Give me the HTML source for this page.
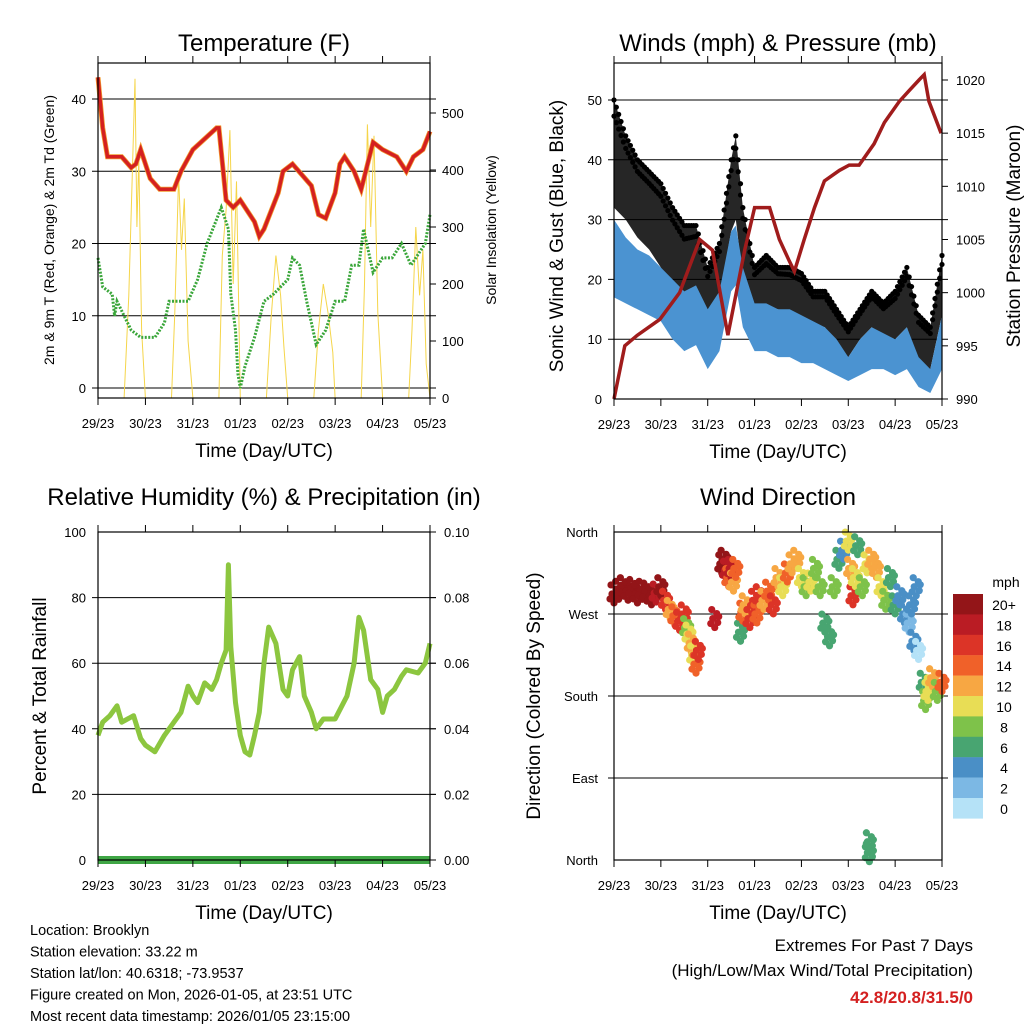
<!DOCTYPE html>
<html><head><meta charset="utf-8"><style>
body{margin:0;background:#fff}
svg{display:block;font-family:"Liberation Sans",sans-serif}
</style></head><body>
<svg id="c" width="1024" height="1024" viewBox="0 0 1024 1024" xmlns="http://www.w3.org/2000/svg"></svg>
<script>
// ---------- DATA ----------
const dayLabels=["29/23","30/23","31/23","01/23","02/23","03/23","04/23","05/23"];
const tempTimes=[0,0.1,0.2,0.5,0.7,0.8,0.9,1.1,1.3,1.6,1.75,2.0,2.5,2.55,2.7,2.85,3.0,3.3,3.4,3.5,3.8,3.9,4.1,4.5,4.65,4.8,5.0,5.1,5.2,5.4,5.55,5.8,6.0,6.3,6.5,6.65,6.85,7.0];
const tempValues=[43,36,32,32,30.5,31,33,29,27.5,27.5,30,33,36,36,26,25,26,23,21,22,27,30,31,28,24,23.5,27,31,32,30,27.5,34,33,32,30,32,33,35.5];
const dewTimes=[0,0.1,0.3,0.35,0.4,0.7,0.9,1.2,1.4,1.5,1.9,2.1,2.3,2.6,2.75,2.8,2.9,2.95,3.0,3.1,3.3,3.5,3.7,4.0,4.1,4.25,4.4,4.6,4.8,5.0,5.2,5.35,5.5,5.6,5.7,5.8,6.0,6.2,6.4,6.6,6.8,6.9,7.0];
const dewValues=[18,14,13,10,12,8,7,7,9,12,12,15,20,25,22,13,8,2,0,3,7,12,13,15,18,17,12,6,8,12,12,17,17,22,19,16,18,18,20,17,19,20,24];
const solarTimes=[0,0.55,0.65,0.72,0.78,0.82,0.86,0.92,1.0,1.55,1.62,1.7,1.76,1.82,1.9,2.0,2.55,2.62,2.7,2.78,2.85,2.92,3.0,3.55,3.65,3.75,3.85,3.92,4.0,4.55,4.65,4.75,4.85,4.95,5.0,5.55,5.62,5.68,5.75,5.82,5.9,6.0,6.55,6.62,6.7,6.78,6.85,6.92,7.0];
const solarValues=[0,0,180,380,560,300,420,120,0,0,150,390,260,350,100,0,0,250,330,470,200,380,0,0,140,250,180,90,0,0,120,200,150,80,0,0,200,480,300,460,150,0,0,120,300,180,260,60,0];
const rhTimes=[0,0.1,0.25,0.4,0.5,0.75,0.9,1.0,1.2,1.4,1.6,1.75,1.9,2.0,2.1,2.25,2.4,2.5,2.6,2.7,2.75,2.8,2.9,3.0,3.1,3.2,3.3,3.4,3.5,3.6,3.75,3.9,4.0,4.1,4.25,4.35,4.5,4.6,4.75,5.0,5.25,5.4,5.5,5.6,5.75,5.9,6.0,6.1,6.25,6.4,6.5,6.75,6.9,7.0];
const rhValues=[38,42,44,47,42,44,37,35,33,38,42,45,53,50,48,54,52,55,60,64,90,65,48,38,33,32,38,45,60,71,66,52,50,58,62,50,45,40,43,43,50,60,74,70,55,52,45,50,52,56,58,57,60,66];
const precipTimes=[0,7];
const precipValues=[0,0];
const windTimes=[0,0.25,0.5,0.75,1.0,1.25,1.5,1.75,2.0,2.25,2.5,2.6,2.75,3.0,3.25,3.5,3.75,4.0,4.25,4.5,4.75,5.0,5.25,5.5,5.75,6.0,6.25,6.5,6.75,7.0];
const gustHi=[50,44,40,38,36,32,29,29,22,26,40,44,32,22,24,22,22,21,18,18,15,12,15,18,16,18,22,14,12,24];
const gustLo=[32,30,27,25,22,18,14,17,12,17,28,30,20,14,15,15,14,13,12,12,9,7,10,12,10,10,12,6,5,14];
const windHi=[30,27,25,24,22,20,18,19,15,18,28,29,22,16,16,15,15,14,13,12,10,7,10,12,11,10,12,7,5,14];
const windLo=[17,16,15,14,13,10,8,9,5,8,18,19,12,8,8,7,7,6,6,5,4,3,4,5,5,4,5,2,1,5];
const presTimes=[0,0.23,0.5,0.98,1.4,1.83,2.1,2.43,2.79,3.0,3.32,3.53,3.74,3.85,4.06,4.28,4.49,4.81,5.02,5.23,5.55,5.77,6.09,6.3,6.51,6.62,6.72,6.98];
const presValues=[990,995,996,997.5,1000,1005,1004,996,1004,1008,1008,1005,1003,1002,1005,1008,1010.5,1011.5,1012,1012,1014,1016,1018,1019,1020,1020.5,1018,1015];
const dirTimes=[0.0,0.1,0.2,0.3,0.4,0.5,0.6,0.7,0.8,0.9,1.0,1.1,1.2,1.3,1.4,1.5,1.55,1.6,1.65,1.7,1.75,1.8,2.15,2.3,2.35,2.4,2.45,2.5,2.55,2.6,2.7,2.75,2.8,2.9,3.0,3.05,3.1,3.2,3.3,3.4,3.5,3.6,3.7,3.8,3.9,4.0,4.1,4.2,4.3,4.4,4.5,4.6,4.7,4.8,4.9,5.0,5.05,5.1,5.15,5.2,5.3,5.4,5.45,5.45,5.5,5.6,5.7,5.8,5.9,6.0,6.1,6.2,6.3,6.35,6.4,6.45,6.5,6.6,6.65,6.7,6.75,6.8,6.9,7.0];
const dirValues=[292,296,300,295,298,292,296,294,290,293,300,285,275,268,262,270,255,248,238,225,215,230,265,325,330,318,310,320,305,320,250,272,280,265,285,270,290,285,295,280,310,300,315,325,330,310,300,305,320,300,260,245,300,330,340,350,320,290,310,345,300,325,20,8,330,320,300,285,310,280,290,270,260,280,240,300,230,195,175,185,190,200,185,195];
const dirSpeeds=[21,21,21,21,21,21,21,21,21,19,20,16,13,14,16,16,9,10,12,10,14,17,19,20,21,18,15,18,12,14,7,14,13,16,17,14,16,12,15,17,13,11,14,12,12,10,9,11,8,9,6,6,9,6,5,11,13,16,10,7,8,10,6,6,13,12,10,8,7,6,4,5,3,4,4,4,1,6,8,10,11,12,9,14];
const cbLabels=["20+","18","16","14","12","10","8","6","4","2","0"];
const cbColors=["#931518","#ba1c24","#dc3427","#f06129","#f7a743","#e8dd55","#7ec24a","#48a571","#4a8fc6","#7cb8e4","#b5e2f7"];

// ---------- DRAW ----------
const svg=document.getElementById('c');const NS='http://www.w3.org/2000/svg';
function el(tag,attrs,parent){const e=document.createElementNS(NS,tag);for(const k in attrs)e.setAttribute(k,attrs[k]);(parent||svg).appendChild(e);return e;}
function txt(x,y,s,size,anchor,parent,extra){const t=el('text',Object.assign({x:x,y:y,'font-size':size,'text-anchor':anchor||'middle',fill:'#000'},extra||{}),parent);t.textContent=s;return t;}
function mkX(x0,x1){return d=>x0+(x1-x0)*d/7;}
function mkY(v0,y0,v1,y1){return v=>y0+(y1-y0)*(v-v0)/(v1-v0);}
function interp(ts,vs,t){for(let i=1;i<ts.length;i++){if(t<=ts[i]){const f=(t-ts[i-1])/(ts[i]-ts[i-1]);return vs[i-1]+f*(vs[i]-vs[i-1]);}}return vs[vs.length-1];}
function frame(g,x0,y0,x1,y1){
  el('rect',{x:x0,y:y0,width:x1-x0,height:y1-y0,fill:'none',stroke:'#000','stroke-width':1.2},g);
}
function xAxis(g,X,y0,y1){
  dayLabels.forEach((l,i)=>{const x=X(i);
    el('line',{x1:x,y1:y1,x2:x,y2:y1+7,stroke:'#000'},g);
    el('line',{x1:x,y1:y0,x2:x,y2:y0-7,stroke:'#000'},g);
    const t=txt(x,y1+30,l,13,'middle',g);
    
    
  });
  const t=txt((X(0)+X(7))/2,y1+59,'Time (Day/UTC)',19,'middle',g);
  
  
}
function grid(g,ys,x0,x1){ys.forEach(y=>el('line',{x1:x0-6,y1:y,x2:x1+6,y2:y,stroke:'#000','stroke-width':1},g));}
function linePath(ts,vs,X,Y){return ts.map((t,i)=>(i?'L':'M')+X(t).toFixed(1)+','+Y(vs[i]).toFixed(1)).join('');}
function band(ts,hi,lo,X,Y){let d=ts.map((t,i)=>(i?'L':'M')+X(t)+','+Y(hi[i])).join('');for(let i=ts.length-1;i>=0;i--)d+='L'+X(ts[i])+','+Y(lo[i]);return d+'Z';}

// Panel 1: Temperature
(function(){
  const g=el('g',{});
  const x0=98,x1=430,y0=63,y1=398;const X=mkX(x0,x1);
  const Y=mkY(0,388,40,99);const YS=mkY(0,398,500,113);
  grid(g,[0,10,20,30,40].map(Y),x0,x1);
  [0,10,20,30,40].forEach(v=>{const t=txt(x0-12,Y(v)+5,String(v),13,'end',g);});
  [0,100,200,300,400,500].forEach(v=>{el('line',{x1:x1,y1:YS(v),x2:x1+6,y2:YS(v),stroke:'#000'},g);const t=txt(x1+12,YS(v)+5,String(v),13,'start',g);});
  const s=el('path',{d:linePath(solarTimes,solarValues,X,YS),fill:'none',stroke:'#f5d54a','stroke-width':1},g);
  
  const dw=el('path',{d:linePath(dewTimes,dewValues,X,Y),fill:'none',stroke:'#3aa63a','stroke-width':3,'stroke-dasharray':'2 1.5'},g);
  
  const to=el('path',{d:linePath(tempTimes,tempValues,X,Y),fill:'none',stroke:'#f29a2e','stroke-width':5},g);
  
  const tr=el('path',{d:linePath(tempTimes,tempValues,X,Y),fill:'none',stroke:'#d42020','stroke-width':3.5},g);
  
  frame(g,x0,y0,x1,y1);xAxis(g,X,y0,y1);
  const t1=txt(264,51,'Temperature (F)',24,'middle',g);
  const t2=txt(0,0,'2m & 9m T (Red, Orange) & 2m Td (Green)',14,'middle',g,{transform:'translate(54,230) rotate(-90)'});
  const t3=txt(0,0,'Solar Insolation (Yellow)',14,'middle',g,{transform:'translate(496,230) rotate(-90)'});
})();

// Panel 2: Winds
(function(){
  const g=el('g',{});
  const x0=614,x1=942,y0=63,y1=399;const X=mkX(x0,x1);
  const Y=mkY(0,399,50,100);const YP=mkY(990,399,1020,80);
  grid(g,[10,20,30,40,50].map(Y),x0,x1);
  [0,10,20,30,40,50].forEach(v=>{const t=txt(x0-12,Y(v)+5,String(v),13,'end',g);});
  [990,995,1000,1005,1010,1015,1020].forEach(v=>{el('line',{x1:x1,y1:YP(v),x2:x1+6,y2:YP(v),stroke:'#000'},g);const t=txt(x1+14,YP(v)+5,String(v),13,'start',g);});
  const gb=el('path',{d:band(windTimes,gustHi,gustLo,X,Y),fill:'#000','fill-opacity':0.85},g);
  for(let t=0;t<=7.001;t+=0.05){const hi=interp(windTimes,gustHi,t),lo=interp(windTimes,gustLo,t);
    [1.0,0.85].forEach(f=>{const c=el('circle',{cx:X(t),cy:Y(lo+(hi-lo)*f),r:2.6,fill:'#000'},g);});}
  const wb=el('path',{d:band(windTimes,windHi,windLo,X,Y),fill:'#4b93d1'},g);
  const p=el('path',{d:linePath(presTimes,presValues,X,YP),fill:'none',stroke:'#a01c1c','stroke-width':3.5},g);
  frame(g,x0,y0,x1,y1);xAxis(g,X,y0,y1);
  const t1=txt(778,51,'Winds (mph) & Pressure (mb)',24,'middle',g);
  const t2=txt(0,0,'Sonic Wind & Gust (Blue, Black)',19,'middle',g,{transform:'translate(563,236) rotate(-90)'});
  const t3=txt(0,0,'Station Pressure (Maroon)',19,'middle',g,{transform:'translate(1020,236) rotate(-90)'});
})();

// Panel 3: RH
(function(){
  const g=el('g',{});
  const x0=98,x1=430,y0=532,y1=860;const X=mkX(x0,x1);
  const Y=mkY(0,860,100,532);const YR=mkY(0,860,0.1,532);
  grid(g,[20,40,60,80].map(Y),x0,x1);
  [0,20,40,60,80,100].forEach(v=>{const t=txt(x0-12,Y(v)+5,String(v),13,'end',g);});
  [0,0.02,0.04,0.06,0.08,0.1].forEach(v=>{el('line',{x1:x1,y1:YR(v),x2:x1+6,y2:YR(v),stroke:'#000'},g);const t=txt(x1+14,YR(v)+5,v.toFixed(2),13,'start',g);});
  const r=el('path',{d:linePath(rhTimes,rhValues,X,Y),fill:'none',stroke:'#8cc63f','stroke-width':5,'stroke-linejoin':'round'},g);
  const pr=el('path',{d:linePath(precipTimes,precipValues,X,YR),fill:'none',stroke:'#3fa645','stroke-width':8},g);
  frame(g,x0,y0,x1,y1);xAxis(g,X,y0,y1);
  const t1=txt(264,505,'Relative Humidity (%) & Precipitation (in)',24,'middle',g);
  const t2=txt(0,0,'Percent & Total Rainfall',19,'middle',g,{transform:'translate(46,696) rotate(-90)'});
})();

// Panel 4: Wind direction
(function(){
  const g=el('g',{});
  const x0=614,x1=942,y0=532,y1=860;const X=mkX(x0,x1);
  const Y=mkY(0,860,360,532);
  grid(g,[90,180,270].map(Y),x0,x1);
  [[0,'North'],[90,'East'],[180,'South'],[270,'West'],[360,'North']].forEach(a=>{const t=txt(x0-16,Y(a[0])+5,a[1],13,'end',g);});
  function col(s){const k=Math.max(0,Math.min(10,Math.floor(s/2)));return cbColors[10-k];}
  const offs=[[-3,-9],[2,-5],[-2,0],[3,4],[0,9],[-4,5],[4,-2]];
  dirTimes.forEach((t,i)=>{offs.forEach(o=>{const c=el('circle',{cx:X(t)+o[0],cy:Y(dirValues[i])+o[1],r:3.6,fill:col(dirSpeeds[i])},g);});});
  frame(g,x0,y0,x1,y1);xAxis(g,X,y0,y1);
  const t1=txt(778,505,'Wind Direction',24,'middle',g);
  const t2=txt(0,0,'Direction (Colored By Speed)',19,'middle',g,{transform:'translate(540,696) rotate(-90)'});
  const cb=el('g',{},g);
  cbColors.forEach((c,i)=>{const r=el('rect',{x:953,y:594+i*20.4,width:30,height:20.6,fill:c},cb);
    const t=txt(1004,610+i*20.4,cbLabels[i],14,'middle',cb);});
  const u=txt(1006,587,'mph',14,'middle',cb);
})();

// Footer text
(function(){
  const g=el('g',{});
  ['Location: Brooklyn','Station elevation: 33.22 m','Station lat/lon: 40.6318; -73.9537','Figure created on Mon, 2026-01-05, at 23:51 UTC','Most recent data timestamp: 2026/01/05 23:15:00'].forEach((s,i)=>{const t=txt(30,935+i*21.5,s,14.5,'start',g);});
  const e=el('g',{});
  const a=txt(973,951,'Extremes For Past 7 Days',17,'end',e);
  const b=txt(973,976,'(High/Low/Max Wind/Total Precipitation)',17,'end',e);
  const c=txt(973,1003,'42.8/20.8/31.5/0',17,'end',e,{fill:'#d42020','font-weight':'bold'});
})();
</script>
</body></html>
